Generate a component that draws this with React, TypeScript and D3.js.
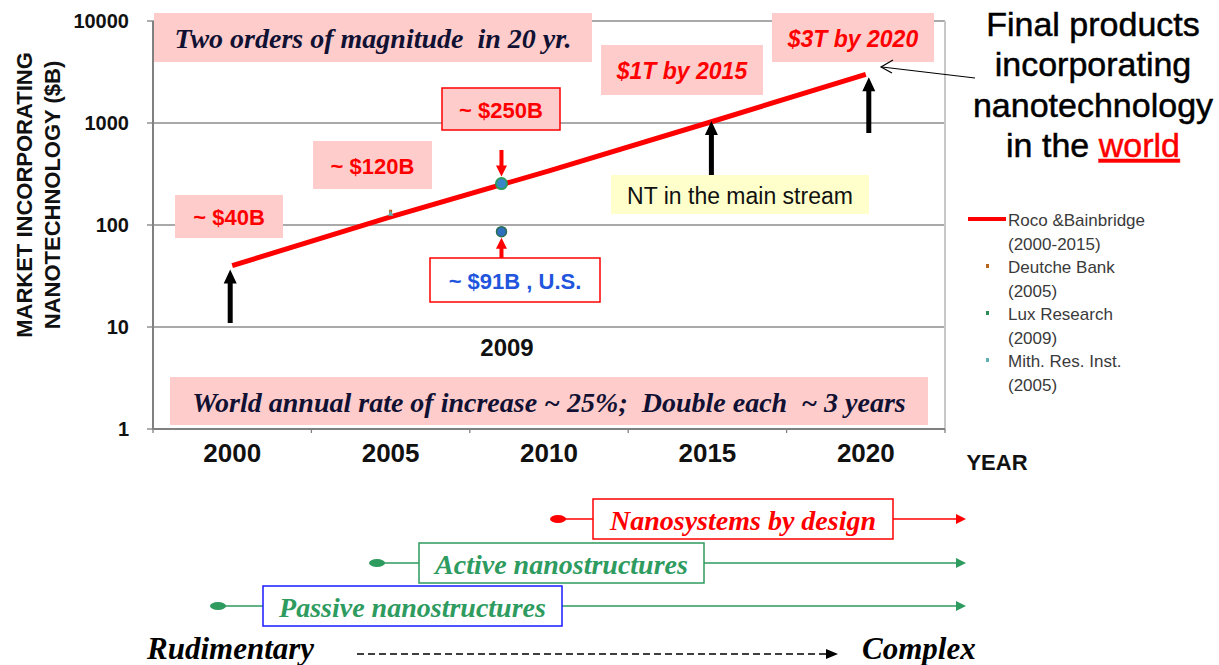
import * as d3 from 'd3';

// chart values
const yearTicks = [2000, 2005, 2010, 2015, 2020];
const valueTicks = [1, 10, 100, 1000, 10000];

const rocoYears = [2000, 2005, 2010, 2015, 2020];
const rocoValues = [40, 120, 340, 1000, 3000];

const luxYear = 2008.5;
const luxValue = 255;
const usYear = 2008.5;
const usValue = 86;
const deutcheYear = 2005;
const deutcheValue = 135;
const mithYear = 2005;
const mithValue = 128;

const legendNames = ['Roco &Bainbridge', 'Deutche Bank', 'Lux Research', 'Mith. Res. Inst.'];
const legendYears = ['(2000-2015)', '(2005)', '(2009)', '(2005)'];
const legendColors = ['#ff0000', '#b5651d', '#2e8b57', '#5fb3b3'];

const SANS = '"Liberation Sans", Arial, sans-serif';
const SERIF = '"Liberation Serif", "Times New Roman", serif';
const PINK = '#ffcccc';
const RED = '#ff0000';
const GREEN = '#2e9b5f';

const W = 1219;
const H = 665;

// filled block arrow pointing from (x, y0) to (x, y1)
function blockArrow(x: number, y0: number, y1: number, shaft = 5, head = 13, headLen = 12) {
    const dir = y1 < y0 ? -1 : 1;
    const hb = y1 - dir * headLen;
    return `M${x - shaft / 2},${y0} L${x - shaft / 2},${hb} L${x - head / 2},${hb} L${x},${y1} L${x + head / 2},${hb} L${x + shaft / 2},${hb} L${x + shaft / 2},${y0} Z`;
}

function Box(props: {
    x: number, y: number, w: number, h: number, fill: string, stroke?: string,
    text: string, color: string, size: number, family: string, weight?: string, italic?: boolean
}) {
    return <g>
        <rect x={props.x} y={props.y} width={props.w} height={props.h} fill={props.fill}
            stroke={props.stroke || 'none'} strokeWidth={1.5} />
        <text x={props.x + props.w / 2} y={props.y + props.h / 2 + 1} textAnchor="middle" dominantBaseline="central"
            fill={props.color} fontSize={props.size} fontFamily={props.family}
            fontWeight={props.weight || 'normal'} fontStyle={props.italic ? 'italic' : 'normal'}
            style={{ whiteSpace: 'pre' }}>{props.text}</text>
    </g>;
}

export default function App() {
    const x = d3.scaleLinear().domain([1997.5, 2022.5]).range([153, 945]);
    const y = d3.scaleLog().domain([1, 10000]).range([429, 21]);

    const line = d3.line<number>()
        .x((_, i) => x(rocoYears[i]))
        .y(d => y(d));

    const bandEdges = d3.range(1997.5, 2023, 5);

    // timeline rows below the chart
    const rows = [
        { label: 'Nanosystems by design', dot: 558, bx: 593, bw: 300, cy: 519, col: RED, border: RED },
        { label: 'Active nanostructures', dot: 377, bx: 419, bw: 285, cy: 563, col: GREEN, border: GREEN },
        { label: 'Passive nanostructures', dot: 218, bx: 263, bw: 299, cy: 606, col: GREEN, border: '#1a1aff' },
    ];
    const arrowEnd = 966;

    return <svg width={W} height={H} style={{ position: 'absolute', left: 0, top: 0, background: '#fff' }}>
        {/* grid lines */}
        {valueTicks.slice(1).map(v =>
            <line key={v} x1={x.range()[0]} x2={x.range()[1]} y1={y(v)} y2={y(v)} stroke="#8c8c8c" strokeWidth={1.3} />)}
        {/* right frame */}
        <line x1={x.range()[1]} x2={x.range()[1]} y1={y(10000)} y2={y(1)} stroke="#c8c8c8" strokeWidth={2} />

        {/* annotation boxes */}
        <Box x={154} y={13} w={438} h={49} fill={PINK} text="Two orders of magnitude  in 20 yr." color="#111133"
            size={28} family={SERIF} weight="bold" italic />
        <Box x={772} y={13} w={162} h={49} fill={PINK} text="$3T by 2020" color={RED}
            size={23} family={SANS} weight="bold" italic />
        <Box x={601} y={45} w={162} h={50} fill={PINK} text="$1T by 2015" color={RED}
            size={23} family={SANS} weight="bold" italic />
        <Box x={442} y={88} w={118} h={42} fill={PINK} stroke={RED} text="~ $250B" color={RED}
            size={22} family={SANS} weight="bold" />
        <Box x={313} y={141} w={119} h={48} fill={PINK} text="~ $120B" color={RED}
            size={22} family={SANS} weight="bold" />
        <Box x={175} y={195} w={108} h={43} fill={PINK} text="~ $40B" color={RED}
            size={22} family={SANS} weight="bold" />
        <Box x={611} y={175} w={258} h={39} fill="#ffffcc" text="NT in the main stream" color="#111"
            size={23} family={SANS} />
        <Box x={430} y={258} w={170} h={44} fill="#fff" stroke={RED} text="~ $91B , U.S." color="#2255dd"
            size={22} family={SANS} weight="bold" />
        <Box x={170} y={377} w={758} h={48} fill={PINK} text="World annual rate of increase ~ 25%;  Double each  ~ 3 years"
            color="#111133" size={28} family={SERIF} weight="bold" italic />

        {/* axes */}
        <line x1={x.range()[0]} x2={x.range()[0]} y1={y(10000)} y2={y(1)} stroke="#808080" strokeWidth={2} />
        <line x1={x.range()[0]} x2={x.range()[1]} y1={y(1)} y2={y(1)} stroke="#808080" strokeWidth={2} />
        {valueTicks.map(v => <g key={v}>
            <line x1={x.range()[0] - 6} x2={x.range()[0]} y1={y(v)} y2={y(v)} stroke="#808080" strokeWidth={1.3} />
            <text x={129} y={y(v)} textAnchor="end" dominantBaseline="central" fontFamily={SANS}
                fontWeight="bold" fontSize={20} fill="#111">{v}</text>
        </g>)}
        {bandEdges.map(e => <line key={e} x1={x(e)} x2={x(e)} y1={y(1)} y2={y(1) + 4} stroke="#808080" strokeWidth={1.3} />)}
        {yearTicks.map(t =>
            <text key={t} x={x(t)} y={462} textAnchor="middle" fontFamily={SANS} fontWeight="bold"
                fontSize={26} fill="#111">{t}</text>)}
        <text x={997} y={470} textAnchor="middle" fontFamily={SANS} fontWeight="bold" fontSize={22} fill="#111">YEAR</text>
        <text transform="translate(32,195) rotate(-90)" textAnchor="middle" fontFamily={SANS} fontWeight="bold"
            fontSize={22} fill="#111">MARKET INCORPORATING</text>
        <text transform="translate(60,195) rotate(-90)" textAnchor="middle" fontFamily={SANS} fontWeight="bold"
            fontSize={22} fill="#111">NANOTECHNOLOGY ($B)</text>

        {/* Roco & Bainbridge line */}
        <path d={line(rocoValues) || ''} fill="none" stroke={RED} strokeWidth={5} />

        {/* small markers 2005 */}
        <rect x={x(deutcheYear) - 1.5} y={y(deutcheValue) - 2} width={3} height={4} fill={legendColors[1]} />
        <path d={d3.symbol(d3.symbolTriangle, 14)() || ''} transform={`translate(${x(mithYear)},${y(mithValue)})`}
            fill={legendColors[3]} />

        {/* Lux point and US point */}
        <circle cx={x(luxYear)} cy={y(luxValue)} r={5.5} fill="#3a86c8" stroke={GREEN} strokeWidth={2} />
        <circle cx={x(usYear)} cy={y(usValue)} r={5} fill="#2f6fc0" stroke="#2a6f4f" strokeWidth={1.5} />

        {/* red pointer arrows */}
        <path d={blockArrow(x(luxYear), 150, y(luxValue) - 7, 4, 11, 11)} fill={RED} />
        <path d={blockArrow(x(usYear), 258, y(usValue) + 6, 4, 11, 11)} fill={RED} />

        {/* black arrows */}
        <path d={blockArrow(x(2000) - 2, y(10) - 4, y(40) + 4, 5, 13, 14)} fill="#000" />
        <path d={blockArrow(x(2015) + 4, 175, y(1000) - 2, 5, 13, 14)} fill="#000" />
        <path d={blockArrow(x(2020) + 3, y(800), y(3000) + 3, 5, 13, 14)} fill="#000" />

        <text x={507} y={356} textAnchor="middle" fontFamily={SANS} fontWeight="bold" fontSize={24} fill="#111">2009</text>

        {/* right annotation */}
        <g fontFamily={SANS} fontSize={34} fill="#000" stroke="#000" strokeWidth={0.5} textAnchor="middle">
            <text x={1093} y={36}>Final products</text>
            <text x={1093} y={76}>incorporating</text>
            <text x={1093} y={117}>nanotechnology</text>
            <text x={1093} y={157}>in the <tspan fill={RED} stroke={RED} style={{ textDecoration: 'underline' }}>world</tspan></text>
        </g>
        <line x1={975} y1={78} x2={882} y2={67} stroke="#000" strokeWidth={1.2} />
        <path d="M893,60 L881,67 L892,73" fill="none" stroke="#000" strokeWidth={1.2} />

        {/* legend */}
        <line x1={968} x2={1006} y1={219} y2={219} stroke={RED} strokeWidth={4} />
        {legendNames.map((n, i) => <g key={n} fontFamily={SANS} fontSize={17} fill="#3a3a3a">
            {i > 0 && <rect x={986} y={219 + i * 47 - 2} width={3} height={4} fill={legendColors[i]} />}
            <text x={1008} y={226 + i * 47}>{n}</text>
            <text x={1008} y={250 + i * 47}>{legendYears[i]}</text>
        </g>)}

        {/* timeline rows */}
        {rows.map(r => <g key={r.label}>
            <ellipse cx={r.dot} cy={r.cy} rx={8} ry={4} fill={r.col} />
            <line x1={r.dot} x2={r.bx} y1={r.cy} y2={r.cy} stroke={r.col} strokeWidth={1.5} />
            <line x1={r.bx + r.bw} x2={arrowEnd - 8} y1={r.cy} y2={r.cy} stroke={r.col} strokeWidth={1.5} />
            <path d={`M${arrowEnd - 10},${r.cy - 5} L${arrowEnd},${r.cy} L${arrowEnd - 10},${r.cy + 5} Z`} fill={r.col} />
            <rect x={r.bx} y={r.cy - 20} width={r.bw} height={40} fill="#fff" stroke={r.border} strokeWidth={1.5} />
            <text x={r.bx + r.bw / 2} y={r.cy + 1} textAnchor="middle" dominantBaseline="central" fontFamily={SERIF}
                fontStyle="italic" fontWeight="bold" fontSize={28} fill={r.col}>{r.label}</text>
        </g>)}

        {/* Rudimentary -> Complex */}
        <text x={147} y={659} fontFamily={SERIF} fontStyle="italic" fontWeight="bold" fontSize={31} fill="#000">Rudimentary</text>
        <line x1={357} x2={828} y1={654} y2={654} stroke="#000" strokeWidth={1.5} strokeDasharray="7,4" />
        <path d="M826,649 L838,654 L826,659 Z" fill="#000" />
        <text x={862} y={659} fontFamily={SERIF} fontStyle="italic" fontWeight="bold" fontSize={31} fill="#000">Complex</text>
    </svg>;
}
